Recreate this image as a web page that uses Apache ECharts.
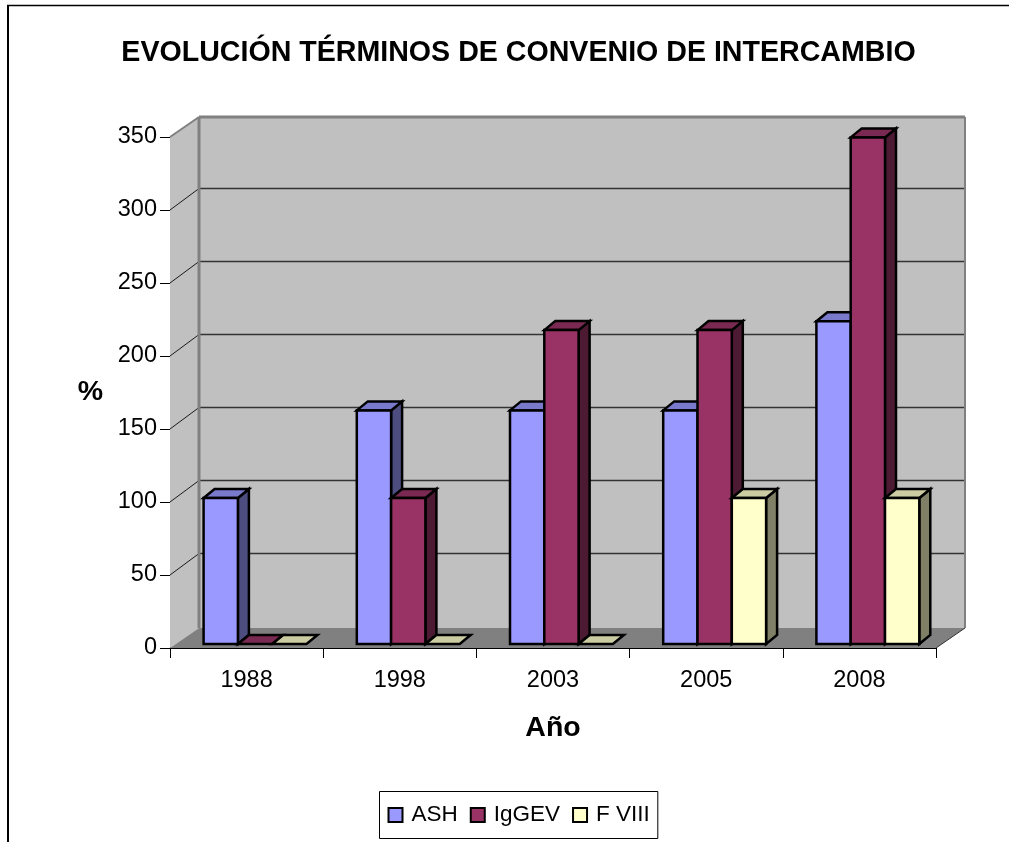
<!DOCTYPE html>
<html><head><meta charset="utf-8">
<style>html,body{margin:0;padding:0;background:#fff}#c{width:1009px;height:842px}</style>
<script src="https://cdn.jsdelivr.net/npm/echarts@6/dist/echarts.min.js"></script>
</head><body><div id="c"></div>
<script>
var years = ['1988','1998','2003','2005','2008'];
var ashValues = [100,160,160,160,221];
var iggevValues = [0,100,215,215,347];
var fviiiValues = [0,0,0,100,100];
var yTicks = [0,50,100,150,200,250,300,350];

var FONT = '"Liberation Sans", Arial, sans-serif';
var DX = 29, DY = 20;
var chart = echarts.init(document.getElementById('c'));

function poly(pts, fill, stroke, lw){
  return {type:'polygon', shape:{points:pts}, style:{fill:fill, stroke:stroke, lineWidth:lw, lineJoin:'miter'}};
}
function line(a,b,color,lw){
  return {type:'line', shape:{x1:a[0],y1:a[1],x2:b[0],y2:b[1]}, style:{stroke:color, lineWidth:lw}};
}
function renderFrame(params, api){
  var cs = params.coordSys;
  var L = cs.x, R = cs.x + cs.width, B = cs.y + cs.height, T = cs.y;
  var kids = [
    poly([[L,B],[L+DX,B-DY],[L+DX,T-DY],[L,T]], '#c0c0c0', null, 0),
    poly([[L+DX,B-DY],[R+DX,B-DY],[R+DX,T-DY],[L+DX,T-DY]], '#c0c0c0', null, 0),
    poly([[L,B],[L+DX,B-DY],[R+DX,B-DY],[R,B]], '#808080', null, 0)
  ];
  yTicks.forEach(function(v){
    if (v === 0 || v === 350) return;
    var y = api.coord([0,v])[1];
    kids.push(line([L,y],[L+DX,y-DY-1.5],'#1a1a1a',1));
    kids.push(line([L+DX,y-DY-1.5],[R+DX,y-DY-1.5],'#333333',1.3));
  });
  kids.push(line([L,T],[L+DX,T-DY],'#808080',2));
  kids.push(line([L+DX,T-DY],[R+DX,T-DY],'#808080',3));
  kids.push(line([L+DX,T-DY],[L+DX,B-DY],'#808080',3));
  kids.push(line([R+DX,T-DY],[R+DX,B-DY],'#808080',2));
  kids.push(line([R,B],[R+DX,B-DY],'#333333',1));
  return {type:'group', children:kids};
}
function bar3d(idx, front, side, top){
  return function(params, api){
    var cat = api.value(0), val = api.value(1);
    var c = api.coord([cat,val]), o = api.coord([cat,0]);
    var w = 34.3, dx = 11, dy = 9;
    var x0 = c[0] + 8.5 - 51.5 + idx*w, x1 = x0 + w;
    var yt = c[1] - 4, yb = o[1] - 4;
    var kids = [];
    if (val > 0) {
      kids.push(poly([[x1,yb],[x1+dx,yb-dy],[x1+dx,yt-dy],[x1,yt]], side, '#000', 2.5));
      kids.push(poly([[x0,yt],[x0+dx,yt-dy],[x1+dx,yt-dy],[x1,yt]], top, '#000', 2.5));
      kids.push(poly([[x0,yb],[x1,yb],[x1,yt],[x0,yt]], front, '#000', 2.5));
    } else {
      kids.push(poly([[x0,yb],[x0+dx,yb-dy],[x1+dx,yb-dy],[x1,yb]], top, '#000', 2.5));
    }
    return {type:'group', children:kids};
  };
}
function barSeries(name, vals, idx, front, side, top){
  return {
    name:name, type:'custom', renderItem:bar3d(idx,front,side,top),
    itemStyle:{color:front, borderColor:'#000', borderWidth:2},
    encode:{x:0,y:1}, clip:false, silent:true, z:5,
    data: vals.map(function(v,i){return [i,v];})
  };
}
chart.setOption({
  animation:false,
  backgroundColor:'#fff',
  title:{text:'EVOLUCIÓN TÉRMINOS DE CONVENIO DE INTERCAMBIO', left:513.5, top:34, textAlign:'center',
    textStyle:{fontFamily:FONT, fontSize:28.6, fontWeight:'bold', color:'#000'}},
  legend:{
    data:['ASH','IgGEV','F VIII'], left:379.5, top:791.5, padding:[12,8,12,8], itemGap:12,
    itemWidth:14, itemHeight:14, icon:'rect', borderColor:'#000', borderWidth:1, backgroundColor:'#fff',
    textStyle:{fontFamily:FONT, fontSize:22.5, color:'#000', padding:[0,0,0,4]}
  },
  grid:{left:170, right:73, top:137, bottom:194},
  xAxis:{
    type:'category', data:years, name:'Año', nameLocation:'middle', nameGap:66,
    nameTextStyle:{fontFamily:FONT, fontSize:28.5, fontWeight:'bold', color:'#000'},
    axisLine:{show:true, lineStyle:{color:'#000',width:1}},
    axisTick:{show:true, length:10, lineStyle:{color:'#000',width:1}, alignWithLabel:false},
    axisLabel:{fontFamily:FONT, fontSize:23.5, color:'#000', margin:21}
  },
  yAxis:{
    type:'value', min:0, max:350, interval:50, name:'%', nameLocation:'middle', nameRotate:0, nameGap:67,
    nameTextStyle:{fontFamily:FONT, fontSize:28.5, fontWeight:'bold', color:'#000'},
    axisLine:{show:true, lineStyle:{color:'#000',width:1}},
    axisTick:{show:true, length:10, lineStyle:{color:'#000',width:1}},
    axisLabel:{fontFamily:FONT, fontSize:23.5, color:'#000', margin:13},
    splitLine:{show:false}
  },
  graphic:[
    {type:'line', silent:true, z:100, shape:{x1:7,y1:5.5,x2:1009,y2:5.5}, style:{stroke:'#000',lineWidth:1.5}},
    {type:'line', silent:true, z:100, shape:{x1:8,y1:5,x2:8,y2:842}, style:{stroke:'#000',lineWidth:2}}
  ],
  series:[
    {type:'custom', name:'frame', renderItem:renderFrame, data:[[0,0]], encode:{x:0,y:1}, clip:false, silent:true, z:1},
    barSeries('ASH', ashValues, 0, '#9999ff', '#4d4d80', '#7a7acc'),
    barSeries('IgGEV', iggevValues, 1, '#993366', '#4d1a33', '#7a2952'),
    barSeries('F VIII', fviiiValues, 2, '#ffffcc', '#808066', '#cccca3')
  ]
});
</script></body></html>
